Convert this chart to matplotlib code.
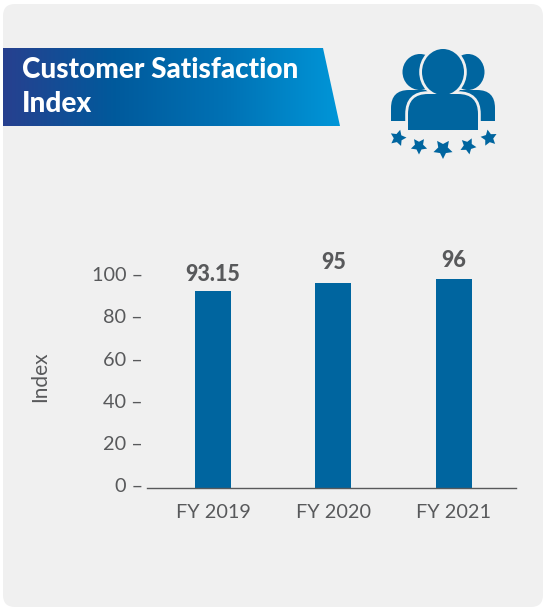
import numpy as np
import matplotlib
matplotlib.use('Agg')
import matplotlib.pyplot as plt
from matplotlib.patches import FancyBboxPatch, Polygon, PathPatch, Ellipse
from matplotlib.path import Path
from matplotlib.colors import LinearSegmentedColormap
from matplotlib.transforms import ScaledTranslation

plt.rcParams['font.family'] = ['Lato', 'DejaVu Sans']

W, H = 543, 608

# bar heights as drawn against the axis, labels as printed above the bars
years = ['FY 2019', 'FY 2020', 'FY 2021']
bar_heights = [93.0, 96.7, 98.5]
bar_labels = ['93.15', '95', '96']
label_gaps = [10, 14, 12]
y_ticks = [0, 20, 40, 60, 80, 100]

blue = '#00659f'
grey = '#58595b'
card = '#f0f0f0'

fig = plt.figure(figsize=(W / 100, H / 100), dpi=100, facecolor='white')

# pixel space overlay for the card, banner and icon
bg = fig.add_axes([0, 0, 1, 1], zorder=0)
bg.add_patch(FancyBboxPatch((15, 16), 516, 579, boxstyle='round,pad=12,rounding_size=12',
                            fc=card, ec='none'))

# banner with left to right gradient
cmap = LinearSegmentedColormap.from_list('banner', ['#27408f', '#005a9c', '#0072b5', '#0096d8'])
grad = np.linspace(0, 1, 256).reshape(1, -1)
im = bg.imshow(grad, extent=(3, 340, 126, 48), cmap=cmap, aspect='auto', zorder=1)
clip = Polygon([(3, 48), (323, 48), (340, 126), (3, 126)], transform=bg.transData, fc='none', ec='none')
bg.add_patch(clip)
im.set_clip_path(clip)
bg.set_xlim(0, W)
bg.set_ylim(H, 0)
bg.axis('off')
bg.text(22, 69.5, 'Customer Satisfaction', color='white', fontsize=20.1, fontweight='black', va='center', zorder=2)
bg.text(22, 103.5, 'Index', color='white', fontsize=20.1, fontweight='black', va='center', zorder=2)


def body_path(cx, top, bottom, half, r):
    verts = [(cx - half, bottom), (cx - half, top + r), (cx - half, top), (cx - half + r, top),
             (cx + half - r, top), (cx + half, top), (cx + half, top + r), (cx + half, bottom),
             (cx - half, bottom)]
    codes = [Path.MOVETO, Path.LINETO, Path.CURVE3, Path.CURVE3, Path.LINETO, Path.CURVE3, Path.CURVE3,
             Path.LINETO, Path.CLOSEPOLY]
    return Path(verts, codes)


def person(cx, head_cy, head_w, head_h, top, bottom, half, r, z):
    bg.add_patch(Ellipse((cx, head_cy), head_w, head_h, fc=blue, ec='none', zorder=z))
    bg.add_patch(PathPatch(body_path(cx, top, bottom, half, r), fc=blue, ec='none', zorder=z))


def outline(cx, head_cy, head_w, head_h, top, bottom, half, r, z):
    bg.add_patch(Ellipse((cx, head_cy), head_w, head_h, fc=card, ec=card, lw=4, zorder=z))
    bg.add_patch(PathPatch(body_path(cx, top, bottom, half, r), fc=card, ec=card, lw=4, zorder=z))


person(420, 72, 35, 36, 90, 121, 29, 18, 3)
person(468, 72, 33, 36, 90, 121, 27, 18, 3)
outline(443, 72, 42, 46, 94, 132, 35, 20, 4)
person(443, 72, 42, 46, 94, 130, 35, 20, 5)


def star(cx, cy, r, rot=0):
    ang = np.deg2rad(np.arange(10) * 36 - 90 + rot)
    rad = np.where(np.arange(10) % 2 == 0, r, r * 0.5)
    bg.add_patch(Polygon(np.c_[cx + rad * np.cos(ang), cy + rad * np.sin(ang)], fc=blue, ec='none', zorder=3))


star(398, 138, 8.5, 15)
star(419, 146, 8.5, 180)
star(443, 149, 10, 180)
star(468, 146, 8.5, 170)
star(489, 138, 8.5, -10)

# chart area, positioned in pixels
left, right, top, bottom = 147, 516, 276, 487.5
ax = fig.add_axes([left / W, 1 - bottom / H, (right - left) / W, (bottom - top) / H], zorder=2)
ax.patch.set_alpha(0)
x = np.arange(len(years))
ax.bar(x, bar_heights, width=0.299, color=blue, zorder=2)
ax.set_xlim(-0.548, 2.515)
ax.set_ylim(0, 100)
for xi, h, lab, gap in zip(x, bar_heights, bar_labels, label_gaps):
    ax.annotate(lab, (xi, h), xytext=(0, gap * 0.72), textcoords='offset points', ha='center', va='baseline',
                fontsize=15.5, fontweight='black', color=grey, clip_on=False)
for s in ['top', 'right', 'left']:
    ax.spines[s].set_visible(False)
ax.spines['bottom'].set_color(grey)
ax.spines['bottom'].set_linewidth(1)
ax.set_xticks(x, years)
# the y ticks are en dashes in the labels, set apart from the axis line
ax.set_yticks(y_ticks, [f'{v} –' for v in y_ticks])
ax.tick_params(axis='x', length=0, pad=12, labelsize=14.3, labelcolor=grey)
ax.tick_params(axis='y', length=0, pad=3, labelsize=14.3, labelcolor=grey)
up = ScaledTranslation(0, 2 / 100, fig.dpi_scale_trans)
for lab in ax.get_yticklabels():
    lab.set_transform(lab.get_transform() + up)
ax.set_ylabel('Index', fontsize=15, color=grey)
ax.yaxis.set_label_coords((50 - left) / (right - left), (bottom - 377) / (bottom - top))

fig.savefig('out.png', dpi=100, facecolor='white')
